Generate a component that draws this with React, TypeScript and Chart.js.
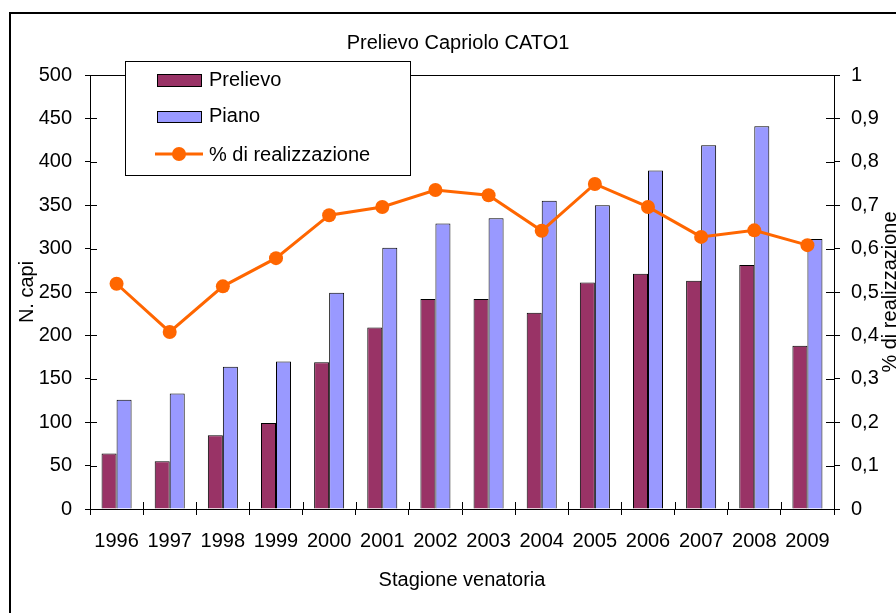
import React, { useEffect, useRef } from "react";
import { Chart, registerables } from "chart.js";

Chart.register(...registerables);

const years = ["1996", "1997", "1998", "1999", "2000", "2001", "2002", "2003", "2004", "2005", "2006", "2007", "2008", "2009"];
const prelievo = [64, 55, 85, 99, 169, 209, 242, 242, 226, 261, 271, 263, 281, 188];
const piano = [126, 133, 164, 170, 249, 301, 329, 335, 355, 350, 390, 419, 441, 311];
const realizzazione = [0.519, 0.408, 0.513, 0.578, 0.677, 0.696, 0.735, 0.723, 0.641, 0.749, 0.696, 0.627, 0.642, 0.608];

const titleText = "Prelievo Capriolo CATO1";
const xTitle = "Stagione venatoria";
const yTitle = "N. capi";
const y2Title = "% di realizzazione";

const FONT = '"Liberation Sans", Arial, sans-serif';
const MAROON = "#993366";
const LILAC = "#9999FF";
const ORANGE = "#FF6600";

const decorPlugin = {
  id: "decor",
  afterDraw(chart: any) {
    const ctx = chart.ctx;
    const area = chart.chartArea;
    const xs = chart.scales.x;
    const y = chart.scales.y;
    const y2 = chart.scales.y2;
    ctx.save();
    ctx.strokeStyle = "#000";
    ctx.lineWidth = 1;
    // top border of plot area
    ctx.beginPath();
    ctx.moveTo(area.left, Math.round(area.top) + 0.5);
    ctx.lineTo(area.right, Math.round(area.top) + 0.5);
    ctx.stroke();
    // inner tick parts
    ctx.beginPath();
    y.ticks.forEach((t: any) => {
      const py = Math.round(y.getPixelForValue(t.value)) + 0.5;
      ctx.moveTo(area.left, py);
      ctx.lineTo(area.left + 7, py);
    });
    y2.ticks.forEach((t: any) => {
      const py = Math.round(y2.getPixelForValue(t.value)) + 0.5;
      ctx.moveTo(area.right - 8, py);
      ctx.lineTo(area.right, py);
    });
    const n = years.length;
    for (let i = 0; i <= n; i++) {
      let px;
      if (i === 0) px = xs.left;
      else if (i === n) px = xs.right;
      else px = (xs.getPixelForValue(i - 1) + xs.getPixelForValue(i)) / 2;
      px = Math.round(px) + 0.5;
      ctx.moveTo(px, area.bottom - 7);
      ctx.lineTo(px, area.bottom);
    }
    ctx.stroke();

    // outer border
    ctx.lineWidth = 2;
    ctx.strokeRect(10, 13, 930, 640);

    // title and axis titles
    ctx.fillStyle = "#000";
    ctx.font = "20px " + FONT;
    ctx.textBaseline = "alphabetic";
    ctx.textAlign = "center";
    ctx.fillText(titleText, 458, 49);
    ctx.fillText(xTitle, (area.left + area.right) / 2, 586);
    ctx.save();
    ctx.translate(33, (area.top + area.bottom) / 2);
    ctx.rotate(-Math.PI / 2);
    ctx.fillText(yTitle, 0, 0);
    ctx.restore();
    ctx.save();
    ctx.translate(896, (area.top + area.bottom) / 2);
    ctx.rotate(-Math.PI / 2);
    ctx.fillText(y2Title, 0, 0);
    ctx.restore();

    // legend
    const ds = chart.data.datasets;
    ctx.lineWidth = 1;
    ctx.fillStyle = "#fff";
    ctx.fillRect(125.5, 61.5, 285, 114);
    ctx.strokeStyle = "#000";
    ctx.strokeRect(125.5, 61.5, 285, 114);
    ctx.textAlign = "left";
    ctx.fillStyle = ds[0].backgroundColor;
    ctx.fillRect(157.5, 74.5, 44, 12);
    ctx.strokeRect(157.5, 74.5, 44, 12);
    ctx.fillStyle = ds[1].backgroundColor;
    ctx.fillRect(157.5, 111.5, 44, 11);
    ctx.strokeRect(157.5, 111.5, 44, 11);
    ctx.strokeStyle = ds[2].borderColor;
    ctx.lineWidth = 3;
    ctx.beginPath();
    ctx.moveTo(155, 154);
    ctx.lineTo(203, 154);
    ctx.stroke();
    ctx.fillStyle = ds[2].borderColor;
    ctx.beginPath();
    ctx.arc(179, 154, 7, 0, Math.PI * 2);
    ctx.fill();
    ctx.fillStyle = "#000";
    ctx.fillText(ds[0].label, 209, 86);
    ctx.fillText(ds[1].label, 209, 122);
    ctx.fillText(ds[2].label, 209, 161);
    ctx.restore();
  },
};

export default function App() {
  const ref = useRef<HTMLCanvasElement>(null);
  useEffect(() => {
    if (!ref.current) return;
    const tickFont = { family: FONT, size: 20 };
    const chart = new Chart(ref.current, {
      type: "bar",
      data: {
        labels: years,
        datasets: [
          {
            type: "bar",
            label: "Prelievo",
            data: prelievo,
            backgroundColor: MAROON,
            borderColor: "#000",
            borderWidth: 1,
            yAxisID: "y",
            order: 1,
            categoryPercentage: 0.565,
            barPercentage: 1,
          } as any,
          {
            type: "bar",
            label: "Piano",
            data: piano,
            backgroundColor: LILAC,
            borderColor: "#000",
            borderWidth: 1,
            yAxisID: "y",
            order: 1,
            categoryPercentage: 0.565,
            barPercentage: 1,
          } as any,
          {
            type: "line",
            label: "% di realizzazione",
            data: realizzazione,
            borderColor: ORANGE,
            backgroundColor: ORANGE,
            borderWidth: 3,
            pointRadius: 7,
            pointBorderWidth: 0,
            pointBackgroundColor: ORANGE,
            yAxisID: "y2",
            order: 0,
          } as any,
        ],
      },
      options: {
        responsive: false,
        animation: false,
        devicePixelRatio: 1,
        layout: { padding: { top: 75, left: 0, right: 0, bottom: 0 } },
        plugins: {
          legend: { display: false },
          title: { display: false },
          tooltip: { enabled: false },
        },
        scales: {
          x: {
            grid: { display: true, drawOnChartArea: false, drawTicks: true, tickLength: 6, color: "#000", offset: true },
            border: { display: true, color: "#000", width: 1 },
            ticks: { color: "#000", font: tickFont, padding: 14, maxRotation: 0, autoSkip: false },
            afterFit: (s: any) => { s.height = 104; },
          },
          y: {
            position: "left",
            min: 0,
            max: 500,
            grid: { display: true, drawOnChartArea: false, drawTicks: true, tickLength: 5, color: "#000" },
            border: { display: true, color: "#000", width: 1 },
            ticks: { stepSize: 50, color: "#000", font: tickFont, padding: 13 },
            afterFit: (s: any) => { s.width = 90; },
          },
          y2: {
            position: "right",
            min: 0,
            max: 1,
            grid: { display: true, drawOnChartArea: false, drawTicks: true, tickLength: 6, color: "#000" },
            border: { display: true, color: "#000", width: 1 },
            ticks: {
              stepSize: 0.1,
              color: "#000",
              font: tickFont,
              padding: 11,
              callback: (v: any) => {
                const n = Number(v);
                if (Math.abs(n) < 1e-9) return "0";
                if (Math.abs(n - 1) < 1e-9) return "1";
                return n.toFixed(1).replace(".", ",");
              },
            },
            afterFit: (s: any) => { s.width = 62; },
          },
        },
      } as any,
      plugins: [decorPlugin],
    });
    return () => chart.destroy();
  }, []);
  return (
    <div style={{ position: "absolute", left: 0, top: 0, width: 896, height: 613, overflow: "hidden", background: "#fff" }}>
      <canvas ref={ref} width={896} height={613} style={{ display: "block" }} />
    </div>
  );
}
